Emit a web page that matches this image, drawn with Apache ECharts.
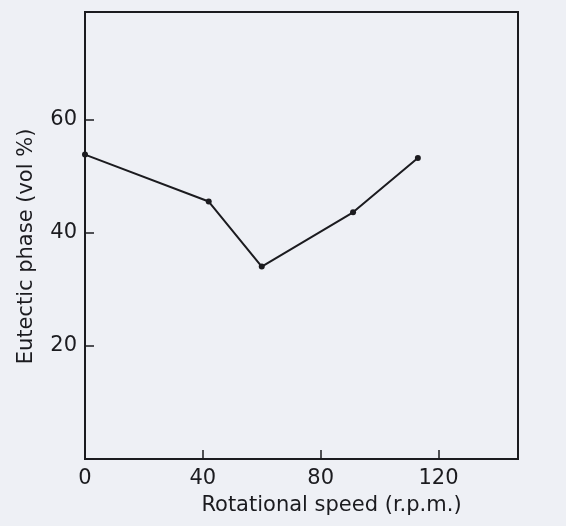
<!DOCTYPE html>
<html>
<head>
<meta charset="utf-8">
<script src="https://cdn.jsdelivr.net/npm/echarts@6/dist/echarts.min.js"></script>
<style>
  html, body { margin: 0; padding: 0; background: #eef0f5; }
  #main { width: 566px; height: 526px; }
</style>
</head>
<body>
<div id="main"></div>
<script>
// rotational speed vs eutectic phase
var speeds = [0, 42, 60, 91, 113];
var eutectic = [53.8, 45.5, 34.0, 43.6, 53.2];
var xTicks = [0, 40, 80, 120];
var yTicks = [20, 40, 60];

var chart = echarts.init(document.getElementById('main'));

var ink = '#1b1b1f';
var font = 'DejaVu Sans';

var option = {
  backgroundColor: '#eef0f5',
  animation: false,
  grid: {
    left: 85,
    right: 48,
    top: 12,
    bottom: 67,
    show: true,
    borderColor: ink,
    borderWidth: 2,
    backgroundColor: 'transparent'
  },
  xAxis: {
    type: 'value',
    min: 0,
    max: 147,
    interval: 40,
    name: 'Rotational speed (r.p.m.)',
    nameLocation: 'middle',
    nameGap: 36,
    nameTextStyle: {
      color: ink,
      fontFamily: font,
      fontSize: 21,
      padding: [0, 0, 0, 60]
    },
    axisLine: { lineStyle: { color: ink, width: 2 } },
    axisTick: { inside: true, length: 9, lineStyle: { color: ink, width: 1.5 } },
    axisLabel: {
      color: ink,
      fontFamily: font,
      fontSize: 21,
      margin: 9,
      showMaxLabel: false,
      formatter: function (v) { return xTicks.indexOf(v) >= 0 ? String(v) : ''; }
    },
    splitLine: { show: false }
  },
  yAxis: {
    type: 'value',
    min: 0,
    max: 79,
    interval: 20,
    name: 'Eutectic phase (vol %)',
    nameLocation: 'middle',
    nameGap: 48,
    nameRotate: 90,
    nameTextStyle: {
      color: ink,
      fontFamily: font,
      fontSize: 21,
      padding: [0, 22, 0, 0]
    },
    axisLine: { lineStyle: { color: ink, width: 2 } },
    axisTick: { inside: true, length: 9, lineStyle: { color: ink, width: 1.5 } },
    axisLabel: {
      color: ink,
      fontFamily: font,
      fontSize: 21,
      margin: 8,
      formatter: function (v) { return yTicks.indexOf(v) >= 0 ? String(v) : ''; }
    },
    splitLine: { show: false }
  },
  series: [
    {
      type: 'line',
      data: speeds.map(function (s, i) { return [s, eutectic[i]]; }),
      symbol: 'circle',
      symbolSize: 6,
      itemStyle: { color: ink },
      lineStyle: { color: ink, width: 2 },
      clip: false
    }
  ]
};

chart.setOption(option);
</script>
</body>
</html>
